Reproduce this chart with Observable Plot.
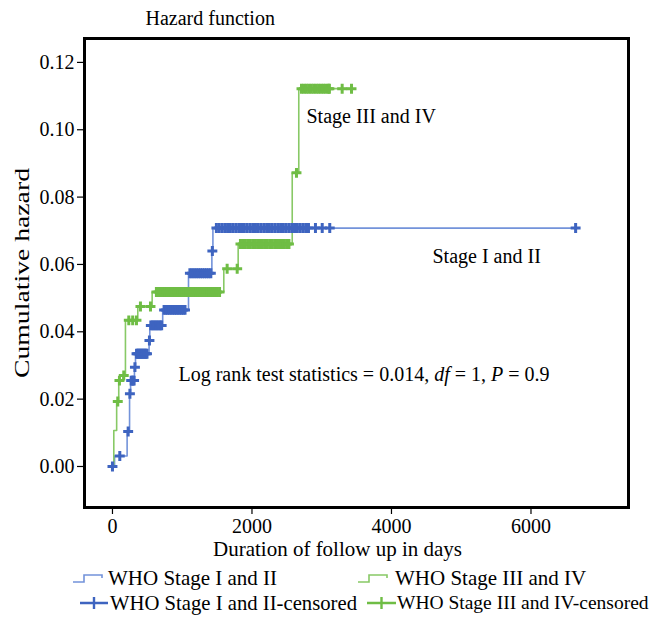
<!DOCTYPE html>
<html><head><meta charset="utf-8">
<script src="https://cdn.jsdelivr.net/npm/d3@7"></script>
<script src="https://cdn.jsdelivr.net/npm/@observablehq/plot@0.6"></script>
<style>
body{margin:0;background:#fff;font-family:"Liberation Serif","Times New Roman",serif;}
#wrap{position:relative;width:655px;height:619px;overflow:hidden;}
#legend{position:absolute;left:0;top:560px;width:655px;height:59px;font-size:21px;color:#000;}
.li{position:absolute;height:24px;white-space:nowrap;}
.li svg{position:absolute;left:0;top:0;display:block;}
.li span{position:absolute;top:0;line-height:24px;}
</style></head><body><div id="wrap"><div id="chart"></div><div id="legend"></div></div>
<script>
// ---- tick values ----
const xTicks = [0, 2000, 4000, 6000];
const yTicks = [0, 0.02, 0.04, 0.06, 0.08, 0.10, 0.12];

// ---- WHO Stage I and II : step function (days, cumulative hazard) ----
const blueStepDays = [0, 30, 210, 245, 260, 315, 330, 525, 535, 720, 1090, 1425, 1440];
const blueStepHaz  = [0, 0.0031, 0.0104, 0.0216, 0.0255, 0.0295, 0.0335, 0.0374, 0.0419, 0.0465, 0.0574, 0.064, 0.0708];
const blueEndDay = 6640;
const blueCensorDays = [0, 105, 225, 250, 268, 282, 296, 310, 322, 345, 360, 375, 390, 405, 420, 435, 450, 465, 480, 495,
  530, 550, 570, 590, 610, 630, 650, 670, 690, 705,
  740, 765, 790, 815, 840, 865, 890, 915, 940, 965, 990, 1015, 1040,
  1110, 1140, 1170, 1200, 1230, 1260, 1290, 1320, 1350, 1380, 1410, 1432,
  1490, 1530, 1570, 1610, 1650, 1690, 1730, 1770, 1810, 1850, 1890, 1930, 1970, 2010, 2050, 2090, 2130,
  2170, 2210, 2250, 2290, 2330, 2370, 2410, 2450, 2490, 2530, 2570, 2610, 2650, 2690, 2730, 2770, 2810,
  2910, 3007, 3115, 6640];

// ---- WHO Stage III and IV : step function ----
const greenStepDays = [0, 19, 60, 90, 150, 186, 363, 569, 1596, 1802, 2577, 2671];
const greenStepHaz  = [0, 0.0107, 0.0193, 0.0255, 0.027, 0.0434, 0.0475, 0.0518, 0.0587, 0.0661, 0.0872, 0.1122];
const greenEndDay = 3427;
const greenCensorDays = [76, 100, 162, 234, 290, 344, 401, 545,
  630, 660, 690, 720, 750, 780, 810, 840, 870, 900, 930, 960, 990, 1020, 1050, 1080, 1110, 1140, 1170,
  1200, 1230, 1260, 1290, 1320, 1350, 1380, 1410, 1440, 1470, 1500, 1535,
  1644, 1788,
  1835, 1870, 1905, 1940, 1975, 2010, 2045, 2080, 2115, 2150, 2185, 2220, 2255, 2290, 2325, 2360, 2395,
  2430, 2465, 2500, 2530,
  2638,
  2710, 2745, 2780, 2815, 2850, 2885, 2920, 2955, 2990, 3025, 3060, 3095, 3110, 3293, 3427];

// ---- texts ----
const titleText = "Hazard function";
const yLabel = "Cumulative hazard";
const xLabel = "Duration of follow up in days";
const annotLabels = ["Stage III and IV", "Stage I and II", "Log rank test statistics = 0.014, df = 1, P = 0.9"];
const annotDays = [2781, 4588, 946];
const annotHaz = [0.104, 0.0624, 0.0273];
const legendLabels = ["WHO Stage I and II", "WHO Stage III and IV", "WHO Stage I and II-censored", "WHO Stage III and IV-censored"];

// ---- colours ----
const blueLine = "#7393da", blueMark = "#3e64c0";
const greenLine = "#88c966", greenMark = "#6fbd45";

function stepLine(days, haz, end) {
  const pts = days.map((t, i) => ({t, h: haz[i]}));
  pts.push({t: end, h: haz[haz.length - 1]});
  return pts;
}
function hazAt(days, haz, t) {
  const i = d3.bisectRight(days, t) - 1;
  return haz[Math.max(0, i)];
}
const blueLineData = stepLine(blueStepDays, blueStepHaz, blueEndDay);
const greenLineData = stepLine(greenStepDays, greenStepHaz, greenEndDay);
const blueCens = blueCensorDays.map(t => ({t, h: hazAt(blueStepDays, blueStepHaz, t)}));
const greenCens = greenCensorDays.map(t => ({t, h: hazAt(greenStepDays, greenStepHaz, t)}));
const annots = annotLabels.map((s, i) => ({s, t: annotDays[i], h: annotHaz[i]}));

const serif = "'Liberation Serif','Times New Roman',serif";
const chart = Plot.plot({
  width: 655, height: 560,
  marginLeft: 84, marginRight: 27, marginTop: 38, marginBottom: 53,
  style: {fontFamily: serif, fontSize: "20px", color: "#000", background: "#fff", overflow: "visible"},
  x: {domain: [-401, 7398]},
  y: {domain: [-0.01218, 0.1271]},
  marks: [
    Plot.axisX({ticks: xTicks, tickSize: 7, tickPadding: 4, label: null, tickFormat: d => String(d), strokeWidth: 1.2, fontSize: 20}),
    Plot.axisY({ticks: yTicks, tickSize: 7, tickPadding: 3, label: null, tickFormat: d => d.toFixed(2), strokeWidth: 1.2, fontSize: 20}),
    Plot.line(blueLineData, {x: "t", y: "h", curve: "step-after", stroke: blueLine, strokeWidth: 1.6}),
    Plot.line(greenLineData, {x: "t", y: "h", curve: "step-after", stroke: greenLine, strokeWidth: 1.6}),
    Plot.dot(blueCens, {x: "t", y: "h", symbol: "plus", r: 3.3, stroke: blueMark, strokeWidth: 3}),
    Plot.dot(greenCens, {x: "t", y: "h", symbol: "plus", r: 3.3, stroke: greenMark, strokeWidth: 3}),
    Plot.frame({stroke: "#000", strokeWidth: 3}),
    Plot.text(annots, {x: "t", y: "h", text: "s", textAnchor: "start", fill: "#000", fontSize: 20}),
    Plot.text([titleText], {frameAnchor: "top-left", dx: 61, dy: -20, textAnchor: "start", lineAnchor: "middle", fill: "#000", fontSize: 20}),
    Plot.text([yLabel], {frameAnchor: "left", dx: -62, rotate: -90, textAnchor: "middle", lineAnchor: "middle", fill: "#000", fontSize: 21}),
    Plot.text([xLabel], {frameAnchor: "bottom", dx: -19, dy: 42, textAnchor: "middle", lineAnchor: "middle", fill: "#000", fontSize: 21})
  ]
});
document.getElementById("chart").appendChild(chart);

// force serif font everywhere, italic df and P, stretch the y label like the reference
d3.select(chart).selectAll("text, tspan").style("font-family", serif, "important").style("font-variant", "normal");
d3.select(chart).selectAll("text").each(function() {
  const el = d3.select(this);
  if (this.textContent === annotLabels[2]) {
    el.text(null);
    const parts = [["Log rank test statistics = 0.014, ", false], ["df", true], [" = 1, ", false], ["P", true], [" = 0.9", false]];
    parts.forEach(([s, it]) => el.append("tspan").text(s).attr("font-style", it ? "italic" : "normal"));
  }
  if (this.textContent === yLabel) {
    el.attr("textLength", 210).attr("lengthAdjust", "spacingAndGlyphs");
  }
});

// ---- legend ----
const leg = document.getElementById("legend");
function stepIcon(color, w) {
  return `<svg width="${w}" height="24"><path d="M0,16H11V9H${w - 2}V12" fill="none" stroke="${color}" stroke-width="1.6"/></svg>`;
}
function plusIcon(color, w) {
  const c = w / 2;
  return `<svg width="${w}" height="24"><path d="M0,12H${w}M${c},6V18" fill="none" stroke="${color}" stroke-width="2.4"/></svg>`;
}
const items = [
  {x: 73, y: 6, w: 31, icon: stepIcon(blueLine, 31), tx: 108, fs: 21, label: legendLabels[0]},
  {x: 358, y: 6, w: 31, icon: stepIcon(greenLine, 31), tx: 395, fs: 21, label: legendLabels[1]},
  {x: 80, y: 31, w: 28, icon: plusIcon(blueMark, 28), tx: 110, fs: 20.7, label: legendLabels[2]},
  {x: 367, y: 31, w: 29, icon: plusIcon(greenMark, 29), tx: 397, fs: 19.5, label: legendLabels[3]}
];
items.forEach(it => {
  const d = document.createElement("div");
  d.className = "li";
  d.style.left = it.x + "px";
  d.style.top = it.y + "px";
  d.innerHTML = it.icon + `<span style="left:${it.tx - it.x}px;font-size:${it.fs}px">${it.label}</span>`;
  leg.appendChild(d);
});
</script></body></html>
